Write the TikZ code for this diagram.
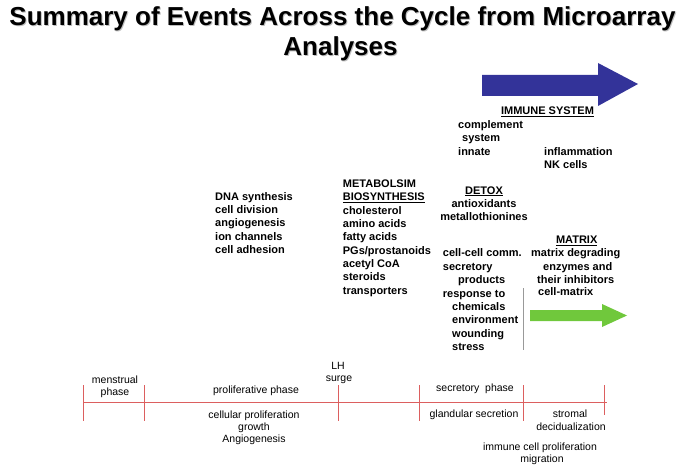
\documentclass[tikz,border=0pt]{standalone}
\usepackage{fontspec}
\setmainfont{Liberation Sans}
\definecolor{tlred}{RGB}{220,95,95}
\definecolor{arrblue}{RGB}{51,51,153}
\definecolor{arrgreen}{RGB}{112,200,60}
\definecolor{shadowgray}{RGB}{190,190,190}
\tikzset{
  lbl/.style={font=\bfseries\fontsize{11}{13}\selectfont,inner sep=0pt,anchor=base west},
  lblc/.style={lbl,anchor=base},
  tl/.style={font=\fontsize{10.5}{12}\selectfont,inner sep=0pt,anchor=base},
  titl/.style={font=\bfseries\fontsize{26}{30}\selectfont,inner sep=0pt,anchor=base},
  redline/.style={draw=tlred,line width=0.8pt},
}
\begin{document}
\begin{tikzpicture}[x=1pt,y=-1pt]
\useasboundingbox (0,0) rectangle (685,468);
% title with shadow
\node[titl,text=shadowgray] (t1s) at (343.5,27) {Summary of Events Across the Cycle from Microarray};
\node[titl,text=shadowgray] (t2s) at (341.5,57) {Analyses};
\node[titl] (t1) at (342.5,26) {Summary of Events Across the Cycle from Microarray};
\node[titl] (t2) at (340.5,56) {Analyses};
% blue arrow
\fill[arrblue] (482,75) -- (598,75) -- (598,63) -- (638,84) -- (598,106) -- (598,96) -- (482,96) -- cycle;
% green arrow
\fill[arrgreen] (530,310) -- (602,310) -- (602,304) -- (627,315.5) -- (602,327) -- (602,321) -- (530,321) -- cycle;
% gray vertical line
\draw[gray!80,line width=0.7pt] (523.5,288) -- (523.5,350);
% proliferative block
\node[lbl] (a1) at (215,200) {DNA synthesis};
\node[lbl] (a2) at (215,213.3) {cell division};
\node[lbl] (a3) at (215,226.7) {angiogenesis};
\node[lbl] (a4) at (215,240) {ion channels};
\node[lbl] (a5) at (215,253.3) {cell adhesion};
% metabolism block
\node[lbl] (b1) at (342.7,187.3) {METABOLSIM};
\node[lbl] (b2) at (342.7,200.7) {\underline{BIOSYNTHESIS}};
\node[lbl] (b3) at (342.7,214) {cholesterol};
\node[lbl] (b4) at (342.7,227.3) {amino acids};
\node[lbl] (b5) at (342.7,240.7) {fatty acids};
\node[lbl] (b6) at (342.7,254) {PGs/prostanoids};
\node[lbl] (b7) at (342.7,267.3) {acetyl CoA};
\node[lbl] (b8) at (342.7,280.7) {steroids};
\node[lbl] (b9) at (342.7,294) {transporters};
% immune
\node[lblc] (c0) at (547.5,115) {\underline{IMMUNE SYSTEM}};
\node[lbl] (c1) at (458,128.3) {complement};
\node[lbl] (c2) at (462,141.7) {system};
\node[lbl] (c3) at (458,155) {innate};
\node[lbl] (c4) at (544,155) {inflammation};
\node[lbl] (c5) at (544,168.3) {NK cells};
% detox
\node[lblc] (d0) at (484,194) {\underline{DETOX}};
\node[lblc] (d1) at (484,207.3) {antioxidants};
\node[lblc] (d2) at (484,220.7) {metallothionines};
% matrix
\node[lblc] (m0) at (576.7,243.3) {\underline{MATRIX}};
\node[lbl] (m1) at (531,256.7) {matrix degrading};
\node[lblc] (m2) at (577.7,270) {enzymes and};
\node[lbl] (m3) at (537,283.3) {their inhibitors};
\node[lbl] (m4) at (538,295.7) {cell-matrix};
% secretory block
\node[lbl] (s1) at (442.7,256.7) {cell-cell comm.};
\node[lbl] (s2) at (442.7,270) {secretory};
\node[lbl] (s3) at (458,283.3) {products};
\node[lbl] (s4) at (442.7,297) {response to};
\node[lbl] (s5) at (452,310.3) {chemicals};
\node[lbl] (s6) at (452,323.7) {environment};
\node[lbl] (s7) at (452,337) {wounding};
\node[lbl] (s8) at (452,350.3) {stress};
% timeline
\coordinate (L0) at (83,402);
\coordinate (L1) at (607,402);
\draw[redline] (L0) -- (L1);
\foreach \x/\n in {83/k1,144/k2,338/k3,419/k4,523/k5} {
  \coordinate (\n a) at (\x,385);
  \coordinate (\n b) at (\x,421);
  \draw[redline] (\n a) -- (\n b);
}
\coordinate (k6a) at (604,385);
\coordinate (k6b) at (604,415);
\draw[redline] (k6a) -- (k6b);
% timeline labels
\node[tl] (e1) at (115,383.5) {menstrual};
\node[tl] (e2) at (115,395.5) {phase};
\node[tl] (e3) at (256,393.5) {proliferative phase};
\node[tl] (e4) at (338,369.5) {LH};
\node[tl] (e5) at (339,381.5) {surge};
\node[tl] (e6) at (475,391.5) {secretory\ \ phase};
\node[tl] (e7) at (254,418) {cellular proliferation};
\node[tl] (e8) at (254,430) {growth};
\node[tl] (e9) at (254,442) {Angiogenesis};
\node[tl] (e10) at (474,417.5) {glandular secretion};
\node[tl] (e11) at (570,417.5) {stromal};
\node[tl] (e12) at (571,430) {decidualization};
\node[tl] (e13) at (540,450.5) {immune cell proliferation};
\node[tl] (e14) at (542,462.5) {migration};
\end{tikzpicture}
\end{document}
